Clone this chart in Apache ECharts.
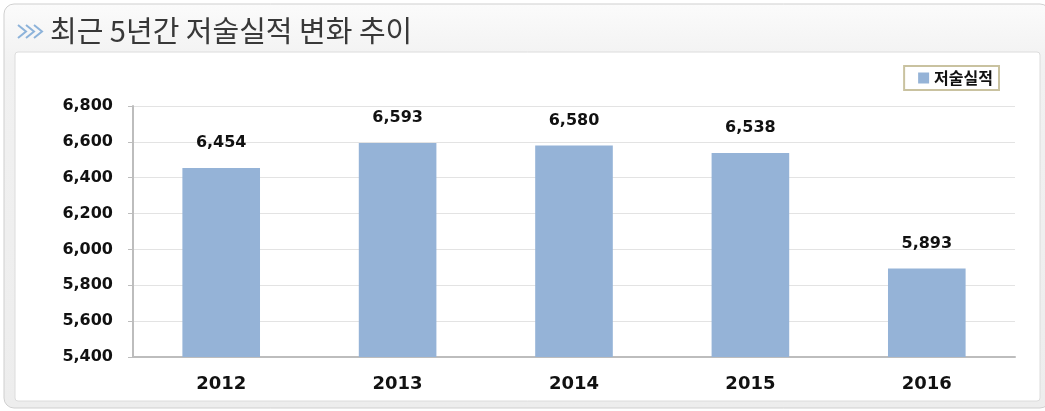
<!DOCTYPE html>
<html><head><meta charset="utf-8">
<script src="https://cdn.jsdelivr.net/npm/echarts@6/dist/echarts.min.js"></script>
<style>html,body{margin:0;padding:0;background:#fff}#c{width:1045px;height:411px}</style>
</head><body><div id="c"></div>
<script>
const categories = ['2012','2013','2014','2015','2016'];
const values = [6454, 6593, 6580, 6538, 5893];
const seriesName = '저술실적';
const titleText = '최근 5년간 저술실적 변화 추이';

const chart = echarts.init(document.getElementById('c'));
const chev = [];
for (let i = 0; i < 3; i++) {
  const x0 = 18 + i * 8;
  chev.push({type:'polyline', shape:{points:[[x0,25],[x0+8,31.5],[x0,38]]}, style:{stroke:'#8db3da', lineWidth:2, fill:null}});
}
chart.setOption({
  animation:false,
  graphic:[
    {type:'rect', shape:{x:4,y:4,width:1046,height:404,r:10}, style:{fill:{type:'linear',x:0,y:0,x2:0,y2:1,colorStops:[{offset:0,color:'#fbfbfb'},{offset:0.15,color:'#f1f1f1'},{offset:1,color:'#ededed'}]}, stroke:'#cfcfcf', lineWidth:1}, z:-10},
    {type:'rect', shape:{x:15,y:52,width:1025,height:349,r:3}, style:{fill:'#fff', stroke:'#dcdcdc', lineWidth:1}, z:-9},
    ...chev,
    {type:'text', left:50, top:16, style:{text:titleText, font:'400 29px "Noto Sans CJK KR"', fill:'#383838'}}
  ],
  legend:{right:46, top:66, itemWidth:11, itemHeight:11, itemGap:2, padding:[4,6,4,14],
    borderColor:'#c9c2a0', borderWidth:2, backgroundColor:'#fff',
    textStyle:{fontFamily:'"Noto Sans CJK KR"', fontWeight:'bold', fontSize:16, color:'#111', padding:[0,0,0,0]},
    icon:'rect', data:[seriesName]},
  grid:{left:133, right:30, top:106, bottom:54},
  xAxis:{type:'category', data:categories,
    axisLine:{lineStyle:{color:'#bdbdbd', width:2}}, axisTick:{show:false},
    axisLabel:{margin:18, color:'#111', fontWeight:'bold', fontSize:18, fontFamily:'"DejaVu Sans", sans-serif'}},
  yAxis:{type:'value', min:5400, max:6800, interval:200,
    axisLine:{show:true, lineStyle:{color:'#bdbdbd', width:2}},
    axisTick:{show:true, length:5, lineStyle:{color:'#bdbdbd'}},
    splitLine:{lineStyle:{color:'#e3e3e3'}},
    axisLabel:{margin:20, color:'#111', fontWeight:'bold', fontSize:16, fontFamily:'"DejaVu Sans", sans-serif',
      formatter:v=>v.toLocaleString('en-US')}},
  series:[{name:seriesName, type:'bar', data:values, barWidth:'44%',
    itemStyle:{color:'#95b3d7'},
    label:{show:true, position:'top', distance:17, color:'#111', fontWeight:'bold', fontSize:16, fontFamily:'"DejaVu Sans", sans-serif',
      formatter:p=>p.value.toLocaleString('en-US')}}]
});
</script></body></html>
